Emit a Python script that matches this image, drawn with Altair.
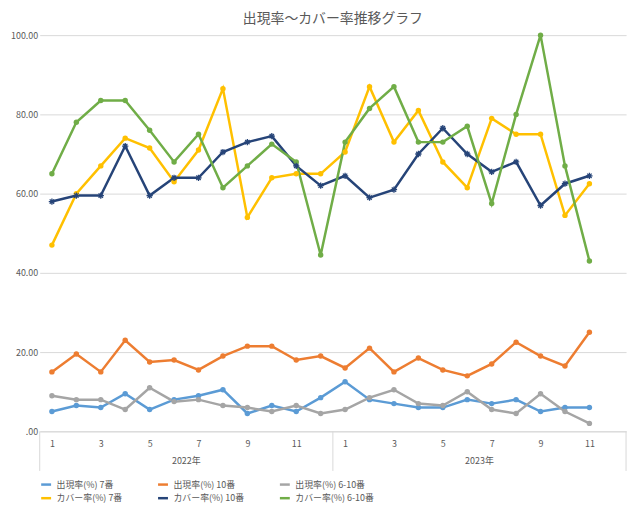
import altair as alt
import pandas as pd

months = list(range(1, 24))
years = ["2022年"] * 12 + ["2023年"] * 11

series_names = ["出現率(%) 7番", "出現率(%) 10番", "出現率(%) 6-10番",
                "カバー率(%) 7番", "カバー率(%) 10番", "カバー率(%) 6-10番"]
colors = ["#5B9BD5", "#ED7D31", "#A5A5A5", "#FFC000", "#264478", "#70AD47"]

s_app7 = [5, 6.5, 6, 9.5, 5.5, 8, 9, 10.5, 4.5, 6.5, 5, 8.5, 12.5, 8, 7, 6, 6, 8, 7, 8, 5, 6, 6]
s_app10 = [15, 19.5, 15, 23, 17.5, 18, 15.5, 19, 21.5, 21.5, 18, 19, 16, 21, 15, 18.5, 15.5, 14, 17, 22.5, 19, 16.5, 25]
s_app610 = [9, 8, 8, 5.5, 11, 7.5, 8, 6.5, 6, 5, 6.5, 4.5, 5.5, 8.5, 10.5, 7, 6.5, 10, 5.5, 4.5, 9.5, 5, 2]
s_cov7 = [47, 60, 67, 74, 71.5, 63, 71, 86.5, 54, 64, 65, 65, 70.5, 87, 73, 81, 68, 61.5, 79, 75, 75, 54.5, 62.5]
s_cov10 = [58, 59.5, 59.5, 72, 59.5, 64, 64, 70.5, 73, 74.5, 67, 62, 64.5, 59, 61, 70, 76.5, 70, 65.5, 68, 57, 62.5, 64.5]
s_cov610 = [65, 78, 83.5, 83.5, 76, 68, 75, 61.5, 67, 72.5, 68, 44.5, 73, 81.5, 87, 73, 73, 77, 57.5, 80, 100, 67, 43]

all_series = [s_app7, s_app10, s_app610, s_cov7, s_cov10, s_cov610]
rows = []
for name, vals in zip(series_names, all_series):
    for i, v in enumerate(vals):
        rows.append({"series": name, "idx": i + 1, "value": v})
df = pd.DataFrame(rows)

W, H = 592, 400
font = "Noto Sans CJK JP"
asterisk = "M-1,0L1,0M0,-1L0,1M-0.7,-0.7L0.7,0.7M-0.7,0.7L0.7,-0.7"
cscale = alt.Scale(domain=series_names, range=colors)

x = alt.X("idx:Q", scale=alt.Scale(domain=[0.5, 24.5], nice=False),
          axis=alt.Axis(values=list(range(1, 25)), labelExpr="((datum.value - 1) % 12) + 1",
                        title=None, grid=False, ticks=False, labelColor="#595959", labelOverlap=False,
                        domainColor="#D9D9D9", labelFontSize=9, labelPadding=8))
y = alt.Y("value:Q", scale=alt.Scale(domain=[0, 100], nice=False),
          axis=alt.Axis(values=list(range(0, 101, 10)),
                        labelExpr="datum.value == 0 ? '.00' : format(datum.value, '.2f')",
                        title=None, domain=False, ticks=False, gridColor="#D9D9D9",
                        labelColor="#595959", labelFontSize=9))
color = alt.Color("series:N", scale=cscale,
                  legend=alt.Legend(orient="bottom", columns=3, title=None, labelFontSize=9,
                                    labelColor="#595959", symbolType="stroke", columnPadding=30,
                                    rowPadding=2, offset=30, labelLimit=200))

base = alt.Chart(df)
lines = base.mark_line(strokeWidth=2.5).encode(x=x, y=y, color=color)
pts = base.transform_filter(alt.datum.series != "カバー率(%) 10番").mark_circle(size=30, opacity=1).encode(
    x="idx:Q", y="value:Q", color=alt.Color("series:N", scale=cscale, legend=None))
stars = base.transform_filter(alt.datum.series == "カバー率(%) 10番").mark_point(
    shape=asterisk, size=40, filled=False, strokeWidth=1.3, color="#264478", opacity=1).encode(
    x="idx:Q", y="value:Q")

ydf = pd.DataFrame({"idx": [6.5, 18.5], "label": ["2022年", "2023年"]})
yr = alt.Chart(ydf).mark_text(font=font, fontSize=9, color="#595959").encode(
    x="idx:Q", y=alt.value(H + 30), text="label:N")
sdf = pd.DataFrame({"idx": [0.5, 12.5, 24.5]})
seps = alt.Chart(sdf).mark_rule(color="#D9D9D9").encode(x="idx:Q", y=alt.value(H), y2=alt.value(H + 40))

chart = alt.layer(lines, pts, stars, yr, seps).properties(
    width=W, height=H, padding={"left": 2, "right": 5, "top": 2, "bottom": 2},
    title=alt.TitleParams("出現率～カバー率推移グラフ", font=font, fontSize=14, fontWeight="normal", color="#595959"),
).configure(font=font).configure_view(stroke=None).configure_legend(symbolStrokeWidth=2.5)

chart.save("out.html", embed_options={"renderer": "svg", "actions": False})
